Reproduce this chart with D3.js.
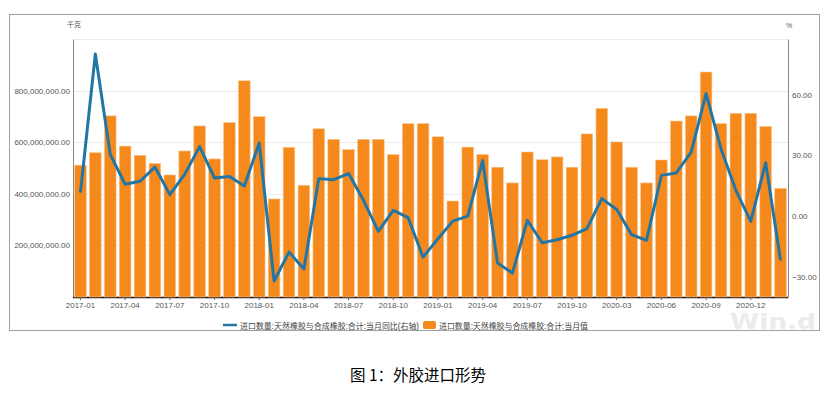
<!DOCTYPE html>
<html>
<head>
<meta charset="utf-8">
<script src="https://cdn.jsdelivr.net/npm/d3@7"></script>
<style>
  body { margin: 0; background: #fff; }
  text { font-family: "Liberation Sans", Arial, "Noto Sans CJK SC", sans-serif; }
</style>
</head>
<body>
<div id="chart"></div>
<script>
const months = [
  '2017-01','2017-02','2017-03','2017-04','2017-05','2017-06','2017-07','2017-08','2017-09','2017-10','2017-11','2017-12',
  '2018-01','2018-02','2018-03','2018-04','2018-05','2018-06','2018-07','2018-08','2018-09','2018-10','2018-11','2018-12',
  '2019-01','2019-02','2019-03','2019-04','2019-05','2019-06','2019-07','2019-08','2019-09','2019-10','2019-11','2019-12',
  '2020-03','2020-04','2020-05','2020-06','2020-07','2020-08','2020-09','2020-10','2020-11','2020-12',
  '2021-01','2021-02'
];
// 当月值, 千克
const monthlyValue = [
  511e6, 559e6, 702e6, 585e6, 549e6, 518e6, 473e6, 566e6, 663e6, 535e6, 676e6, 838e6,
  699e6, 380e6, 580e6, 433e6, 652e6, 611e6, 571e6, 611e6, 611e6, 552e6, 672e6, 672e6,
  621e6, 372e6, 581e6, 552e6, 503e6, 442e6, 562e6, 532e6, 543e6, 503e6, 632e6, 731e6,
  601e6, 503e6, 442e6, 531e6, 682e6, 702e6, 872e6, 672e6, 712e6, 712e6,
  661e6, 421e6
];
// 当月同比, %
const yoy = [
  11.6, 80.1, 30.5, 15.7, 17.2, 24.2, 10.6, 20.6, 34.3, 18.8, 19.6, 14.8,
  36.1, -32.1, -17.8, -26.2, 18.5, 18.0, 21.0, 7.8, -7.6, 2.8, -0.8, -20.3,
  -11.2, -2.5, 0.0, 27.4, -23.2, -28.2, -2.1, -13.2, -11.7, -9.5, -6.2, 8.6,
  3.2, -9.2, -12.0, 20.1, 21.3, 31.6, 60.5, 33.3, 12.7, -2.6,
  26.4, -21.9
];
const xTickLabels = ['2017-01','2017-04','2017-07','2017-10','2018-01','2018-04','2018-07','2018-10',
  '2019-01','2019-04','2019-07','2019-10','2020-03','2020-06','2020-09','2020-12'];
const leftTicks = [200e6, 400e6, 600e6, 800e6];
const rightTicks = [-30, 0, 30, 60];
const lineName = '进口数量:天然橡胶与合成橡胶:合计:当月同比(右轴)';
const barName = '进口数量:天然橡胶与合成橡胶:合计:当月值';

const W = 831, H = 395;
const plot = { left: 73, right: 788, top: 39, bottom: 297 };

const svg = d3.select('#chart').append('svg').attr('width', W).attr('height', H);

// outer frame
svg.append('rect').attr('x', 9.5).attr('y', 14.5).attr('width', 810).attr('height', 316)
  .attr('fill', '#fff').attr('stroke', '#a0a0a0').attr('stroke-width', 1);

// watermark
svg.append('text').attr('x', 816).attr('y', 329).attr('text-anchor', 'end')
  .attr('font-size', 21).attr('font-weight', 'bold').attr('fill', '#ebebeb')
  .attr('textLength', 86).attr('lengthAdjust', 'spacingAndGlyphs')
  .style('font-family', '"DejaVu Sans", sans-serif').text('Win.d');

const x = d3.scaleBand().domain(months).range([plot.left, plot.right]).paddingInner(0.22).paddingOuter(0.11);
const yL = d3.scaleLinear().domain([0, 1000e6]).range([plot.bottom, plot.top]);
const yR = d3.scaleLinear().domain([-40, 87.5]).range([plot.bottom, plot.top]);

// gridlines
svg.append('g').selectAll('line').data(leftTicks.concat([1000e6])).join('line')
  .attr('x1', plot.left).attr('x2', plot.right)
  .attr('y1', d => Math.round(yL(d)) + 0.5).attr('y2', d => Math.round(yL(d)) + 0.5)
  .attr('stroke', '#ececec');

// left axis
const fmt = d3.format(',.2f');
const gL = svg.append('g').attr('transform', `translate(${plot.left},0)`)
  .call(d3.axisLeft(yL).tickValues(leftTicks).tickFormat(fmt).tickSize(0).tickPadding(3));
gL.select('.domain').attr('stroke', '#888');
gL.selectAll('text').attr('font-size', 8).attr('fill', '#555');

// right axis
const gR = svg.append('g').attr('transform', `translate(${plot.right},0)`)
  .call(d3.axisRight(yR).tickValues(rightTicks).tickFormat(d3.format('.2f')).tickSize(0).tickPadding(4));
gR.select('.domain').attr('stroke', '#888');
gR.selectAll('text').attr('font-size', 8).attr('fill', '#555');

// bottom axis line (black, visible between bars)
svg.append('line').attr('x1', plot.left).attr('x2', plot.right)
  .attr('y1', plot.bottom + 0.5).attr('y2', plot.bottom + 0.5).attr('stroke', '#111').attr('stroke-width', 1.5);

// bars
svg.append('g').selectAll('rect').data(months).join('rect')
  .attr('x', d => x(d)).attr('width', x.bandwidth())
  .attr('y', (d, i) => yL(monthlyValue[i]))
  .attr('height', (d, i) => plot.bottom - yL(monthlyValue[i]))
  .attr('fill', '#f5891b').attr('stroke', '#fbc38a').attr('stroke-width', 0.6);

// bottom axis ticks and labels
const gX = svg.append('g').attr('transform', `translate(0,${plot.bottom})`)
  .call(d3.axisBottom(x).tickValues(xTickLabels).tickSize(3).tickPadding(2));
gX.select('.domain').remove();
gX.selectAll('line').attr('stroke', '#666');
gX.selectAll('text').attr('font-size', 8).attr('fill', '#555');

// line series
const line = d3.line()
  .x((d, i) => x(months[i]) + x.bandwidth() / 2)
  .y(d => yR(d));
svg.append('path').datum(yoy)
  .attr('fill', 'none').attr('stroke', '#2276a6').attr('stroke-width', 3)
  .attr('stroke-linejoin', 'round').attr('d', line);

// unit labels
svg.append('text').attr('x', 67).attr('y', 27).attr('font-size', 7).attr('fill', '#555')
  .style('font-family', '"Noto Sans CJK SC", sans-serif').text('千克');
svg.append('text').attr('x', 786).attr('y', 28).attr('font-size', 7).attr('fill', '#555').text('%');

// legend
const lg = svg.append('g').style('font-family', '"Noto Sans CJK SC", sans-serif');
lg.append('line').attr('x1', 223).attr('x2', 237).attr('y1', 325).attr('y2', 325)
  .attr('stroke', '#2276a6').attr('stroke-width', 2.5);
lg.append('text').attr('x', 240).attr('y', 328.5).attr('font-size', 8.2).attr('fill', '#444')
  .attr('textLength', 179).attr('lengthAdjust', 'spacingAndGlyphs').text(lineName);
lg.append('rect').attr('x', 423).attr('y', 321).attr('width', 13).attr('height', 8).attr('rx', 2)
  .attr('fill', '#f5891b');
lg.append('text').attr('x', 439).attr('y', 328.5).attr('font-size', 8.2).attr('fill', '#444')
  .attr('textLength', 149).attr('lengthAdjust', 'spacingAndGlyphs').text(barName);

// caption
svg.append('text').attr('x', 418).attr('y', 381).attr('text-anchor', 'middle')
  .attr('font-size', 15.5).attr('fill', '#000')
  .style('font-family', '"Noto Sans CJK SC", sans-serif').text('图 1：外胶进口形势');
</script>
</body>
</html>
